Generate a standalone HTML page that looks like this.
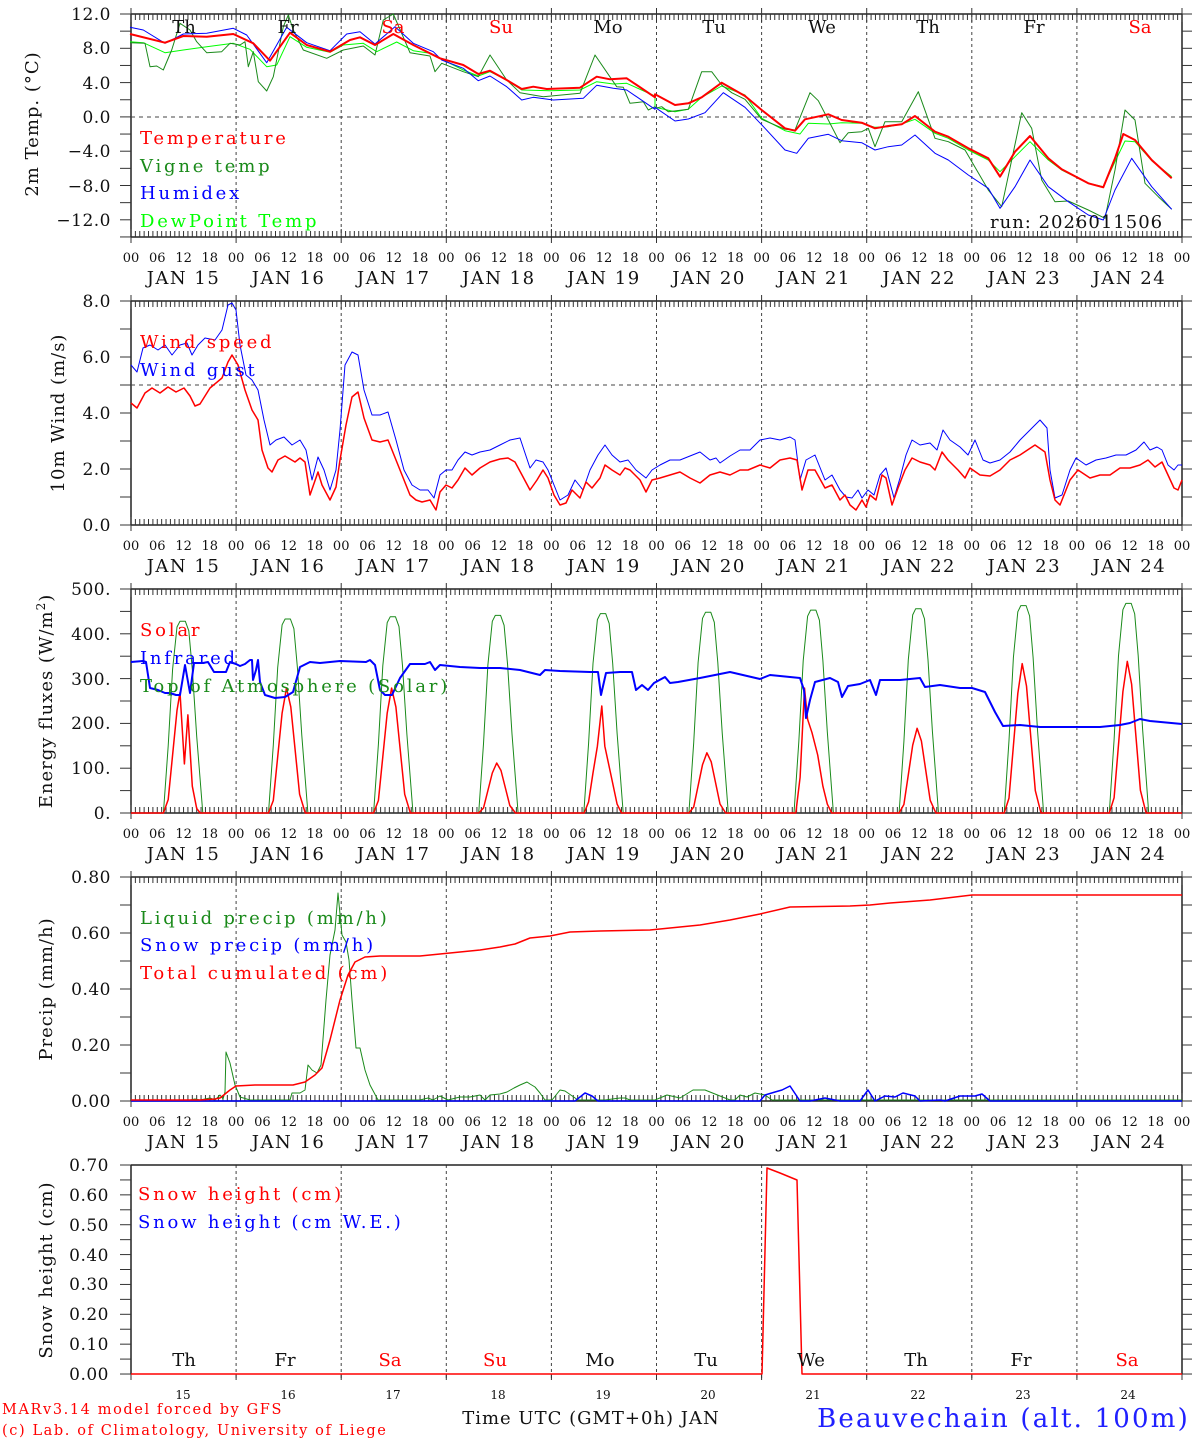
<!DOCTYPE html>
<html><head><meta charset="utf-8"><style>
html,body{margin:0;padding:0;background:#fff}
svg{display:block}
text{font-family:"DejaVu Serif","Liberation Serif",serif}
.yl{font-size:17px;text-anchor:end;fill:#111;letter-spacing:0.5px}
.hl{font-size:13px;text-anchor:middle;fill:#111}
.dl{font-size:18px;text-anchor:middle;fill:#111;letter-spacing:1.5px}
.lg{font-size:18px;letter-spacing:2.8px}
.at{font-size:18px;text-anchor:middle;fill:#111;letter-spacing:1px}
.wd{font-size:18px;text-anchor:middle}
</style></head><body>
<svg id="s" xmlns="http://www.w3.org/2000/svg" width="1194" height="1440" viewBox="0 0 1194 1440">
<g id="g"></g>
<defs>
<g id="hrow">
<text class="hl" x="131">00</text><text class="hl" x="157.3">06</text><text class="hl" x="183.6">12</text><text class="hl" x="209.8">18</text>
<text class="hl" x="236.1">00</text><text class="hl" x="262.4">06</text><text class="hl" x="288.7">12</text><text class="hl" x="314.9">18</text>
<text class="hl" x="341.2">00</text><text class="hl" x="367.5">06</text><text class="hl" x="393.8">12</text><text class="hl" x="420">18</text>
<text class="hl" x="446.3">00</text><text class="hl" x="472.6">06</text><text class="hl" x="498.9">12</text><text class="hl" x="525.1">18</text>
<text class="hl" x="551.4">00</text><text class="hl" x="577.7">06</text><text class="hl" x="604">12</text><text class="hl" x="630.2">18</text>
<text class="hl" x="656.5">00</text><text class="hl" x="682.8">06</text><text class="hl" x="709.1">12</text><text class="hl" x="735.3">18</text>
<text class="hl" x="761.6">00</text><text class="hl" x="787.9">06</text><text class="hl" x="814.2">12</text><text class="hl" x="840.4">18</text>
<text class="hl" x="866.7">00</text><text class="hl" x="893">06</text><text class="hl" x="919.3">12</text><text class="hl" x="945.5">18</text>
<text class="hl" x="971.8">00</text><text class="hl" x="998.1">06</text><text class="hl" x="1024.4">12</text><text class="hl" x="1050.6">18</text>
<text class="hl" x="1076.9">00</text><text class="hl" x="1103.2">06</text><text class="hl" x="1129.5">12</text><text class="hl" x="1155.7">18</text>
<text class="hl" x="1182">00</text>
<text class="dl" x="183.5" y="22">JAN 15</text><text class="dl" x="288.6" y="22">JAN 16</text><text class="dl" x="393.7" y="22">JAN 17</text>
<text class="dl" x="498.8" y="22">JAN 18</text><text class="dl" x="603.9" y="22">JAN 19</text><text class="dl" x="709" y="22">JAN 20</text>
<text class="dl" x="814.1" y="22">JAN 21</text><text class="dl" x="919.2" y="22">JAN 22</text><text class="dl" x="1024.3" y="22">JAN 23</text>
<text class="dl" x="1129.4" y="22">JAN 24</text>
</g>
</defs>
<use href="#hrow" x="0" y="262"/>
<use href="#hrow" x="0" y="550"/>
<use href="#hrow" x="0" y="838"/>
<use href="#hrow" x="0" y="1126"/>

<text class="yl" x="111" y="20">12.0</text><text class="yl" x="111" y="54">8.0</text><text class="yl" x="111" y="89">4.0</text>
<text class="yl" x="111" y="123">0.0</text><text class="yl" x="111" y="157">−4.0</text><text class="yl" x="111" y="192">−8.0</text><text class="yl" x="111" y="226">−12.0</text>
<text class="yl" x="111" y="307">8.0</text><text class="yl" x="111" y="363">6.0</text><text class="yl" x="111" y="419">4.0</text>
<text class="yl" x="111" y="475">2.0</text><text class="yl" x="111" y="531">0.0</text>
<text class="yl" x="111" y="595">500.</text><text class="yl" x="111" y="640">400.</text><text class="yl" x="111" y="685">300.</text>
<text class="yl" x="111" y="729">200.</text><text class="yl" x="111" y="774">100.</text><text class="yl" x="111" y="819">0.</text>
<text class="yl" x="111" y="883">0.80</text><text class="yl" x="111" y="939">0.60</text><text class="yl" x="111" y="995">0.40</text>
<text class="yl" x="111" y="1051">0.20</text><text class="yl" x="111" y="1107">0.00</text>
<text class="yl" x="109" y="1171">0.70</text><text class="yl" x="109" y="1201">0.60</text><text class="yl" x="109" y="1231">0.50</text>
<text class="yl" x="109" y="1261">0.40</text><text class="yl" x="109" y="1290">0.30</text><text class="yl" x="109" y="1320">0.20</text>
<text class="yl" x="109" y="1350">0.10</text><text class="yl" x="109" y="1380">0.00</text>

<text class="at" transform="translate(38,124) rotate(-90)">2m Temp. (°C)</text>
<text class="at" transform="translate(64,413) rotate(-90)">10m Wind (m/s)</text>
<text class="at" transform="translate(52,701) rotate(-90)">Energy fluxes (W/m<tspan font-size="12" dy="-7">2</tspan><tspan dy="7">)</tspan></text>
<text class="at" transform="translate(52,989) rotate(-90)">Precip (mm/h)</text>
<text class="at" transform="translate(52,1270) rotate(-90)">Snow height (cm)</text>

<text class="wd" x="184" y="33" fill="#111">Th</text><text class="wd" x="288" y="33" fill="#111">Fr</text>
<text class="wd" x="393" y="33" fill="#f00">Sa</text><text class="wd" x="501" y="33" fill="#f00">Su</text>
<text class="wd" x="608" y="33" fill="#111">Mo</text><text class="wd" x="714" y="33" fill="#111">Tu</text>
<text class="wd" x="822" y="33" fill="#111">We</text><text class="wd" x="928" y="33" fill="#111">Th</text>
<text class="wd" x="1034" y="33" fill="#111">Fr</text><text class="wd" x="1140" y="33" fill="#f00">Sa</text>
<text class="wd" x="184" y="1366" fill="#111">Th</text><text class="wd" x="285" y="1366" fill="#111">Fr</text>
<text class="wd" x="390" y="1366" fill="#f00">Sa</text><text class="wd" x="495" y="1366" fill="#f00">Su</text>
<text class="wd" x="600" y="1366" fill="#111">Mo</text><text class="wd" x="706" y="1366" fill="#111">Tu</text>
<text class="wd" x="811" y="1366" fill="#111">We</text><text class="wd" x="916" y="1366" fill="#111">Th</text>
<text class="wd" x="1021" y="1366" fill="#111">Fr</text><text class="wd" x="1127" y="1366" fill="#f00">Sa</text>
<g font-size="12" text-anchor="middle" fill="#111">
<text x="183" y="1399">15</text><text x="288" y="1399">16</text><text x="393" y="1399">17</text><text x="498" y="1399">18</text>
<text x="603" y="1399">19</text><text x="708" y="1399">20</text><text x="813" y="1399">21</text><text x="918" y="1399">22</text>
<text x="1023" y="1399">23</text><text x="1128" y="1399">24</text>
</g>

<text class="lg" x="140" y="144" fill="#f00">Temperature</text>
<text class="lg" x="140" y="172" fill="#1a8a1a">Vigne temp</text>
<text class="lg" x="140" y="199" fill="#00f">Humidex</text>
<text class="lg" x="140" y="227" fill="#0f0">DewPoint Temp</text>
<text x="990" y="228" font-size="18" letter-spacing="1" fill="#111">run: 2026011506</text>
<text class="lg" x="140" y="348" fill="#f00">Wind speed</text>
<text class="lg" x="140" y="376" fill="#00f">Wind gust</text>
<text class="lg" x="140" y="636" fill="#f00">Solar</text>
<text class="lg" x="140" y="664" fill="#00f">Infrared</text>
<text class="lg" x="140" y="692" fill="#1a8a1a">Top of Atmosphere (Solar)</text>
<text class="lg" x="140" y="924" fill="#1a8a1a">Liquid precip (mm/h)</text>
<text class="lg" x="140" y="951" fill="#00f">Snow precip (mm/h)</text>
<text class="lg" x="140" y="979" fill="#f00">Total cumulated (cm)</text>
<text class="lg" x="138" y="1200" fill="#f00">Snow height (cm)</text>
<text class="lg" x="138" y="1228" fill="#00f">Snow height (cm W.E.)</text>

<text x="2" y="1414" font-size="14.5" letter-spacing="1.6" fill="#f00">MARv3.14 model forced by GFS</text>
<text x="2" y="1435" font-size="14.5" letter-spacing="1.6" fill="#f00">(c) Lab. of Climatology, University of Liege</text>
<text x="591" y="1424" font-size="18" letter-spacing="1" text-anchor="middle" fill="#111">Time UTC (GMT+0h) JAN</text>
<text x="1190" y="1427" font-size="26" letter-spacing="2.2" text-anchor="end" fill="#2020ff">Beauvechain (alt. 100m)</text>
</svg>
<script>
(function(){
var S='http://www.w3.org/2000/svg',G=document.getElementById('g');
function el(n,a){var e=document.createElementNS(S,n);for(var k in a)e.setAttribute(k,a[k]);G.appendChild(e);return e;}
function line(x1,y1,x2,y2,c,w,d){var a={x1:x1,y1:y1,x2:x2,y2:y2,stroke:c||'#222','stroke-width':w||1};if(d)a['stroke-dasharray']=d;el('line',a);}
function pl(p,c,w){el('polyline',{points:p.map(function(q){return q[0].toFixed(1)+','+q[1].toFixed(1)}).join(' '),fill:'none',stroke:c,'stroke-width':w||1,'stroke-linejoin':'round'});}
var L=131,R=1182,DX=105.1,HX=DX/24;
function X(h){return L+h*HX;}
var panels=[[14,237,13,17.15],[301,525,8,28],[589,813,10,22.4],[877,1101,8,28],[1165,1374,14,14.93]];
panels.forEach(function(p,i){
 var t=p[0],b=p[1];
 for(var d=1;d<10;d++){var x=L+DX*d;line(x,t,x,i==4?b+6:b,'#444',1,'3,3');}
 line(L,t,R,t,'#222',1.5);line(L,t,L,b,'#222',1.5);line(R,t,R,b,'#222',1.5);
 if(i<4){line(L,b,R,b,'#222',1.5);
  for(var h=0;h<=240;h++){var x=X(h),m=(h%24==0);
   line(x,t,x,t+(m?8:6),'#333',1);line(x,b,x,b-(m?8:6),'#333',1);
   if(m){line(x,b,x,b+6,'#333',1);line(x,t,x,t-6,'#333',1);}}
 } else {for(var d=0;d<=10;d++){var x=L+DX*d;line(x,b,x,b+6,'#333',1);}}
 for(var k=0;k<=p[2];k++){var y=t+k*p[3];if(y>b+0.5)break;line(L-11,y,L,y,'#333',1);line(R,y,R+10,y,'#333',1);}
});
line(L,117,R,117,'#444',1,'4,4');
line(L,385,R,385,'#444',1,'4,4');

function zl(a){return a.map(function(q){return [130+q[0]/3,10+q[1]/3];});}
function zr(a){return a.map(function(q){return [655+q[0]/3,10+q[1]/3];});}
var vigL=[[0,98],[45,100],[60,170],[80,168],[100,180],[125,120],[150,40],[180,60],[200,95],[230,128],[275,125],[300,100],[330,105],[345,95],[355,170],[370,125],[385,215],[410,243],[430,200],[460,50],[475,15],[490,60],[520,120],[590,145],[640,120],[700,108],[735,135],[760,30],[790,12],[840,128],[900,138],[915,185],[935,160],[1000,185],[1045,200],[1080,135],[1130,210],[1170,248],[1240,260],[1350,250],[1395,135],[1460,230],[1480,232],[1500,280],[1540,275],[1555,300],[1575,290]];
var vigR=[[0,295],[20,290],[40,305],[100,298],[140,185],[170,185],[200,225],[230,248],[270,268],[320,328],[390,358],[420,360],[465,248],[490,272],[520,330],[555,398],[580,368],[620,365],[640,355],[660,410],[690,335],[740,335],[790,245],[840,385],[880,395],[930,420],[1000,540],[1040,590],[1070,450],[1100,308],[1130,355],[1160,510],[1200,575],[1240,573],[1300,600],[1350,625],[1380,480],[1410,300],[1440,330],[1470,520],[1510,560],[1550,598]];
var dewL=[[0,95],[40,98],[105,128],[160,120],[230,110],[310,100],[360,118],[410,170],[440,165],[480,80],[530,112],[600,127],[640,105],[700,100],[740,125],[800,96],[850,122],[900,130],[935,148],[1000,180],[1045,198],[1080,185],[1130,210],[1175,240],[1260,242],[1350,240],[1400,215],[1450,222],[1490,220],[1575,258]];
var dewR=[[0,292],[60,305],[100,298],[140,262],[200,228],[270,255],[320,325],[390,362],[435,372],[460,340],[520,342],[560,338],[620,340],[660,352],[700,350],[740,342],[780,328],[840,370],[880,385],[940,420],[1000,450],[1035,485],[1080,440],[1125,395],[1180,450],[1220,480],[1300,520],[1345,530],[1380,455],[1410,393],[1440,395],[1490,452],[1550,500]];
var humL=[[0,52],[40,60],[105,100],[160,72],[230,70],[310,55],[350,75],[410,158],[470,52],[530,98],[600,122],[650,72],[690,65],[735,102],[795,50],[850,100],[910,125],[935,150],[1000,175],[1045,212],[1080,198],[1130,230],[1175,270],[1210,262],[1270,270],[1360,265],[1400,226],[1450,235],[1490,240],[1575,298]];
var humR=[[0,292],[60,333],[100,327],[150,308],[205,248],[270,292],[330,355],[390,420],[425,430],[460,385],[520,373],[560,392],[620,398],[660,420],[700,410],[740,405],[780,375],[840,430],[880,450],[940,495],[1000,535],[1035,595],[1080,530],[1125,450],[1180,530],[1240,575],[1300,615],[1345,630],[1380,540],[1430,445],[1490,530],[1550,598]];
var tL=[[0,72],[105,98],[160,78],[230,80],[310,72],[370,100],[420,152],[480,68],[530,105],[600,125],[660,90],[690,82],[735,105],[790,72],[850,105],[930,145],[1000,165],[1045,192],[1080,182],[1130,210],[1175,237],[1210,230],[1250,237],[1350,233],[1400,200],[1440,208],[1490,205],[1520,225],[1575,262]];
var tR=[[0,253],[60,285],[100,280],[140,262],[200,218],[270,258],[320,300],[390,355],[420,362],[450,328],[520,313],[560,330],[620,338],[660,355],[700,348],[740,343],[780,318],[840,365],[880,380],[940,415],[1000,445],[1035,500],[1080,425],[1125,378],[1180,445],[1220,478],[1300,520],[1345,532],[1380,445],[1405,372],[1440,390],[1490,450],[1550,505]];
pl(zl(dewL).concat(zr(dewR)),'#00ff00',1);
pl(zl(vigL).concat(zr(vigR)),'#1a8a1a',1);
pl(zl(humL).concat(zr(humR)),'#0000ff',1);
pl(zl(tL).concat(zr(tR)),'#ff0000',2);

var ws=[[131,403],[137,408],[145,393],[152,388],[160,393],[168,387],[176,392],[184,388],[190,396],[195,406],[200,404],[210,388],[222,378],[228,362],[232,355],[238,365],[245,390],[252,410],[258,420],[262,450],[268,468],[272,472],[278,460],[285,456],[295,462],[300,458],[305,462],[310,495],[318,472],[322,485],[330,500],[336,487],[340,460],[346,425],[352,397],[358,392],[364,418],[372,440],[380,442],[388,440],[396,460],[404,480],[410,495],[416,500],[422,502],[430,500],[436,510],[440,492],[446,485],[452,488],[458,480],[465,468],[472,475],[480,468],[490,462],[500,459],[508,458],[515,462],[522,475],[530,490],[537,480],[543,470],[548,478],[554,495],[560,505],[566,503],[572,490],[580,498],[586,482],[592,488],[600,478],[605,465],[612,470],[620,475],[625,468],[630,470],[640,480],[646,492],[652,480],[660,478],[670,475],[680,472],[690,478],[700,483],[710,475],[720,472],[730,475],[740,470],[748,470],[760,465],[770,468],[780,460],[790,458],[797,460],[802,490],[808,470],[815,470],[825,488],[832,485],[840,500],[845,495],[850,505],[856,510],[862,500],[866,507],[870,495],[876,500],[882,475],[886,478],[892,505],[898,488],[905,470],[912,458],[920,462],[930,465],[935,470],[942,452],[948,460],[958,470],[965,478],[970,468],[980,475],[990,476],[1000,470],[1010,460],[1020,455],[1035,445],[1045,452],[1050,480],[1055,500],[1060,505],[1070,480],[1078,470],[1090,478],[1100,475],[1110,475],[1120,468],[1130,468],[1140,465],[1148,460],[1155,467],[1162,462],[1168,475],[1174,488],[1178,490],[1182,480]];
var wg=[[131,365],[137,372],[143,348],[150,345],[158,350],[165,345],[172,355],[180,345],[187,343],[192,355],[198,345],[205,338],[215,340],[222,330],[228,305],[232,303],[236,310],[240,345],[246,375],[252,380],[258,390],[264,420],[270,445],[276,440],[284,437],[292,445],[300,440],[306,450],[312,480],[318,457],[324,470],[330,490],[336,470],[340,430],[345,365],[352,352],[358,355],[364,390],[372,415],[380,415],[388,412],[396,440],[404,470],[412,485],[420,490],[428,490],[434,498],[440,475],[446,470],[452,470],[458,460],[465,452],[472,455],[480,452],[490,450],[500,445],[510,440],[520,438],[530,468],[536,460],[543,462],[548,470],[554,485],[560,500],[568,495],[575,480],[583,490],[590,470],[598,455],[605,445],[612,455],[620,462],[628,460],[636,470],[646,478],[652,470],[660,465],[670,460],[680,460],[690,456],[700,452],[710,460],[716,458],[720,463],[730,456],[740,450],[750,450],[760,440],[770,438],[780,440],[790,437],[795,440],[800,480],[806,460],[815,455],[825,480],[832,475],[840,490],[846,497],[852,498],[858,490],[862,498],[868,490],[874,495],[880,475],[886,468],[894,498],[900,478],[906,455],[912,440],[920,445],[930,443],[937,450],[943,430],[950,440],[960,447],[968,455],[975,440],[983,460],[990,463],[1000,460],[1010,452],[1020,440],[1030,430],[1040,420],[1047,428],[1050,470],[1055,498],[1062,495],[1070,470],[1076,458],[1086,465],[1096,460],[1106,458],[1116,455],[1126,455],[1136,450],[1144,442],[1150,450],[1157,447],[1162,450],[1168,465],[1174,470],[1178,465],[1182,465]];
pl(wg,'#0000ff',1);pl(ws,'#ff0000',1.5);

function y3(v){return 813-v*0.446;}
var toaP=[430,435,440,443,447,450,455,458,465,470];
var toa=[[0,0]];
var tf=[[7.4,0],[8.5,0.35],[9.5,0.75],[10.5,0.97],[11.2,1],[12.4,1],[13.2,0.95],[14,0.75],[15,0.4],[16.4,0]];
for(var d=0;d<10;d++)tf.forEach(function(q){toa.push([d*24+q[0],q[1]*toaP[d]]);});
toa.push([240,0]);
pl(toa.map(function(q){return [X(q[0]),y3(q[1])];}),'#1a8a1a',1);
var solP=[0,280,280,112,240,135,0,190,335,340];
var sf=[[7.4,0],[8.5,0.1],[9.5,0.45],[10.5,0.8],[11.5,1],[12.5,0.85],[13.5,0.5],[14.5,0.15],[15.8,0]];
var sol=[[0,0]];
for(var d=0;d<10;d++){
 if(d==0){[[7.4,0],[8.5,30],[9.5,130],[10.5,230],[11.2,270],[12.2,110],[13,220],[14,60],[15,10],[15.8,0]].forEach(function(q){sol.push([q[0],q[1]]);});}
 else if(d==6){[[7.8,0],[8.8,80],[9.8,280],[10.5,210],[11.5,180],[12.8,130],[14,60],[15,20],[16,0]].forEach(function(q){sol.push([144+q[0],q[1]]);});}
 else if(d==4){[[7.5,0],[8.5,25],[9.5,90],[10.5,150],[11.5,240],[12.2,150],[13.5,90],[15,20],[16,0]].forEach(function(q){sol.push([96+q[0],q[1]]);});}
 else sf.forEach(function(q){sol.push([d*24+q[0],q[1]*solP[d]]);});
}
sol.push([240,0]);
pl(sol.map(function(q){return [X(q[0]),y3(q[1])];}),'#ff0000',1.5);
var ir=[[131,662],[143,661],[146,662],[150,688],[158,690],[165,693],[170,693],[176,695],[180,695],[185,665],[190,693],[194,663],[203,663],[208,662],[214,672],[220,672],[226,672],[230,662],[236,664],[240,666],[245,664],[250,660],[252,660],[253,680],[256,670],[258,660],[260,682],[265,695],[275,698],[285,697],[293,692],[300,667],[310,662],[320,663],[340,661],[366,662],[370,660],[375,665],[380,690],[385,695],[392,695],[400,678],[410,664],[425,664],[430,662],[435,670],[440,665],[460,667],[480,668],[500,668],[520,670],[540,675],[545,670],[560,671],[590,672],[598,672],[601,695],[606,673],[620,672],[632,672],[636,690],[642,685],[648,690],[654,683],[665,677],[670,683],[678,682],[700,678],[730,672],[760,679],[770,675],[800,678],[804,690],[806,718],[810,700],[815,682],[830,678],[838,682],[842,697],[848,686],[860,684],[870,680],[876,695],[880,680],[900,680],[920,678],[925,687],[940,685],[960,688],[972,688],[985,692],[995,712],[1003,726],[1020,725],[1040,727],[1080,727],[1100,727],[1120,725],[1130,723],[1140,719],[1150,721],[1182,724]];
pl(ir,'#0000ff',2);

var liq=[[131,1100],[190,1100],[195,1099],[200,1100],[210,1098],[215,1100],[220,1095],[223,1099],[225,1092],[226,1052],[230,1063],[235,1085],[240,1097],[250,1100],[258,1100],[290,1100],[292,1093],[300,1093],[305,1090],[308,1065],[312,1070],[317,1073],[321,1065],[326,1000],[330,955],[335,930],[338,893],[342,935],[346,942],[349,960],[352,1000],[356,1048],[360,1048],[365,1070],[370,1085],[378,1100],[420,1100],[428,1098],[433,1100],[440,1096],[448,1100],[460,1097],[470,1097],[480,1095],[485,1100],[490,1095],[500,1094],[507,1092],[514,1088],[520,1085],[527,1082],[530,1084],[535,1087],[540,1093],[545,1100],[552,1100],[560,1090],[565,1091],[578,1100],[605,1100],[620,1098],[625,1098],[630,1100],[655,1100],[667,1095],[680,1098],[693,1090],[705,1090],[720,1096],[730,1100],[735,1100],[740,1095],[747,1097],[755,1093],[765,1095],[772,1100],[1182,1100]];
var snw=[[131,1101],[575,1101],[585,1093],[592,1096],[598,1101],[760,1101],[765,1095],[775,1092],[782,1090],[790,1086],[800,1101],[810,1101],[825,1098],[840,1101],[860,1101],[868,1090],[875,1101],[885,1096],[895,1097],[903,1093],[915,1096],[920,1101],[940,1100],[945,1101],[960,1096],[975,1096],[982,1094],[990,1101],[1182,1101]];
var tot=[[131,1100],[200,1100],[215,1099],[220,1098],[230,1090],[236,1086],[255,1085],[293,1085],[305,1082],[315,1075],[322,1068],[330,1040],[340,1000],[348,975],[355,962],[365,957],[380,956],[420,956],[440,954],[460,952],[480,950],[500,947],[515,944],[530,938],[550,936],[570,932],[600,931],[650,930],[680,927],[700,925],[730,920],[760,914],[790,907],[850,906],[870,905],[890,903],[930,900],[972,895],[1182,895]];
pl(liq,'#1a8a1a',1);pl(snw,'#0000ff',1.5);pl(tot,'#ff0000',1.5);

pl([[131,1374],[762,1374],[767,1168],[780,1173],[797,1180],[802,1374],[1182,1374]],'#ff0000',1.5);
})();
</script>
</body></html>
